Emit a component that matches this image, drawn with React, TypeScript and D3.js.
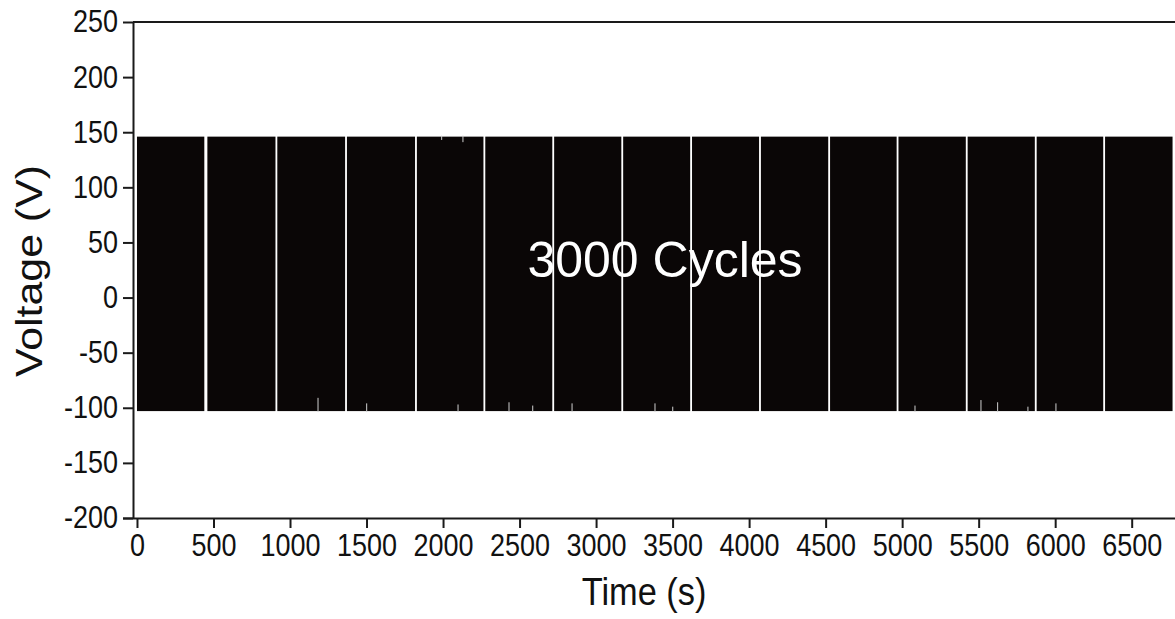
import React, { useEffect, useRef } from 'react'
import * as d3 from 'd3'

// each block = one run of cycles, start / end in seconds
const blockStarts = [0, 460, 917, 1372, 1829, 2276, 2726, 3177, 3627, 4077, 4529, 4976, 5428, 5879, 6326]
const blockEnds = [440, 905, 1360, 1817, 2264, 2714, 3165, 3615, 4065, 4517, 4964, 5416, 5867, 6314, 6767]
const peakVolt = 146
const troughVolt = -103

// small notches seen on the envelope edges
const lowSpikeTimes = [1183, 1501, 2098, 2431, 2586, 2843, 3385, 3501, 5084, 5515, 5624, 5822, 6005]
const lowSpikeVolts = [-91, -96, -97, -95, -98, -96, -96, -99, -98, -93, -95, -99, -96]
const highDipTimes = [1991, 2130]
const highDipVolts = [143, 141]

const xTicks = [0, 500, 1000, 1500, 2000, 2500, 3000, 3500, 4000, 4500, 5000, 5500, 6000, 6500]
const yTicks = [-200, -150, -100, -50, 0, 50, 100, 150, 200, 250]

const W = 1175
const H = 619
const FONT = '"Liberation Sans", Arial, sans-serif'

const App: React.FC = () => {
  const svgRef = useRef<SVGSVGElement>(null)

  useEffect(() => {
    const svg = d3.select(svgRef.current)
    svg.selectAll('*').remove()

    const left = 133
    const right = 1175
    const top = 22
    const bottom = 518

    const x = d3.scaleLinear().domain([-26, 6783]).range([left, right])
    const y = d3.scaleLinear().domain([-200, 250]).range([bottom, top])

    const blocks = blockStarts.map((s, i) => ({ s, e: blockEnds[i] }))

    // waveform envelope blocks
    svg.append('g')
      .selectAll('rect')
      .data(blocks)
      .enter().append('rect')
      .attr('x', d => x(d.s))
      .attr('width', d => x(d.e) - x(d.s))
      .attr('y', y(peakVolt))
      .attr('height', y(troughVolt) - y(peakVolt))
      .attr('fill', '#0a0606')

    const lows = lowSpikeTimes.map((t, i) => ({ t, v: lowSpikeVolts[i] }))
    svg.append('g')
      .selectAll('line')
      .data(lows)
      .enter().append('line')
      .attr('x1', d => x(d.t)).attr('x2', d => x(d.t))
      .attr('y1', y(troughVolt) + 1).attr('y2', d => y(d.v))
      .attr('stroke', '#d0d0d0')
      .attr('stroke-width', 1)

    const highs = highDipTimes.map((t, i) => ({ t, v: highDipVolts[i] }))
    svg.append('g')
      .selectAll('line')
      .data(highs)
      .enter().append('line')
      .attr('x1', d => x(d.t)).attr('x2', d => x(d.t))
      .attr('y1', y(peakVolt) - 1).attr('y2', d => y(d.v))
      .attr('stroke', '#d0d0d0')
      .attr('stroke-width', 1)

    // top frame line
    svg.append('line')
      .attr('x1', left).attr('x2', right)
      .attr('y1', top).attr('y2', top)
      .attr('stroke', '#1a1a1a')
      .attr('stroke-width', 2)

    const sx = 0.87
    const fmt = (d: d3.NumberValue) => String(d)

    const gx = svg.append('g')
      .attr('transform', `translate(0,${bottom})`)
      .call(d3.axisBottom(x).tickValues(xTicks).tickSize(10).tickSizeOuter(0).tickPadding(6).tickFormat(fmt))
    gx.select('.domain').attr('d', `M${left - 10},0.5H${right}`)

    const gy = svg.append('g')
      .attr('transform', `translate(${left},0)`)
      .call(d3.axisLeft(y).tickValues(yTicks).tickSize(10).tickSizeOuter(0).tickFormat(fmt))

    for (const g of [gx, gy]) {
      g.select('.domain').attr('stroke', '#1a1a1a').attr('stroke-width', 2)
      g.selectAll('.tick line').attr('stroke', '#1a1a1a').attr('stroke-width', 2)
      g.selectAll('.tick text')
        .attr('fill', '#111')
        .style('font-family', FONT)
        .style('font-size', '31px')
    }
    gx.selectAll('.tick text').attr('transform', `scale(${sx},1)`)
    gy.selectAll('.tick text')
      .attr('x', -15 / sx)
      .attr('transform', `scale(${sx},1)`)

    // labels
    svg.append('text')
      .attr('transform', `translate(644,605) scale(${sx},1)`)
      .attr('text-anchor', 'middle')
      .style('font-family', FONT)
      .style('font-size', '39.5px')
      .attr('fill', '#111')
      .text('Time (s)')

    svg.append('text')
      .attr('transform', 'translate(42,271) rotate(-90) scale(1.02,0.88)')
      .attr('text-anchor', 'middle')
      .style('font-family', FONT)
      .style('font-size', '42px')
      .attr('fill', '#111')
      .text('Voltage (V)')

    svg.append('text')
      .attr('x', 665)
      .attr('y', 277)
      .attr('text-anchor', 'middle')
      .style('font-family', FONT)
      .style('font-size', '50px')
      .attr('fill', '#ffffff')
      .text('3000 Cycles')
  }, [])

  return (
    <svg
      ref={svgRef}
      width={W}
      height={H}
      style={{ position: 'absolute', left: 0, top: 0, background: '#fff' }}
    />
  )
}

export default App
